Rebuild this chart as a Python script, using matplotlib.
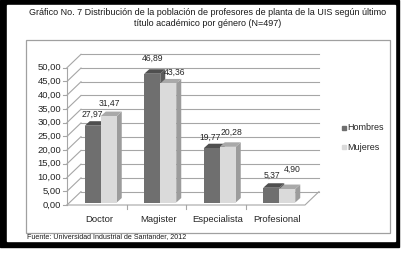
import matplotlib
matplotlib.use("Agg")
import matplotlib.pyplot as plt
from matplotlib.patches import Polygon, Rectangle

# ============================================================
#  Datos
# ============================================================
categories = ["Doctor", "Magister", "Especialista", "Profesional"]
hombres = [27.97, 46.89, 19.77, 5.37]
mujeres = [31.47, 43.36, 20.28, 4.90]
series_names = ["Hombres", "Mujeres"]
y_ticks = [0, 5, 10, 15, 20, 25, 30, 35, 40, 45, 50]

title_lines = [
    "Gráfico No. 7 Distribución de la población de profesores de planta de la UIS según último",
    "título académico por género (N=497)",
]
source = "Fuente: Universidad Industrial de Santander, 2012"

# ============================================================
#  Estilo
# ============================================================
W, H = 401, 254
FONT = ["Liberation Sans", "DejaVu Sans"]
GRID = "#a6a6a6"
TXT = "#262626"

# colores: frente, arriba, lado
COLORS = [
    ("#6f6f6f", "#4f4f4f", "#5c5c5c"),
    ("#dadada", "#a9a9a9", "#9c9c9c"),
]

# desplazamiento de etiquetas (px) respecto al borde superior del frente
LABEL_DX = [[0, 0.5, -1.5, 1], [1, 6, 3.5, 5]]
LABEL_DY = [[11, 15, 11, 12], [13, 11, 14, 20]]


def fx(x):
    return x / W


def fy(y):
    return 1 - y / H


fig = plt.figure(figsize=(W / 100, H / 100), dpi=100)

# marco negro y recuadro del grafico
fig.patches.append(Rectangle((0, fy(247)), fx(399), 247 / H,
                             transform=fig.transFigure, color="black", zorder=-3))
fig.patches.append(Rectangle((fx(7), fy(241)), fx(395) - fx(7), (241 - 5) / H,
                             transform=fig.transFigure, color="white", zorder=-2))
fig.patches.append(Rectangle((fx(26), fy(233)), fx(390) - fx(26), (233 - 40) / H,
                             transform=fig.transFigure, fill=False,
                             edgecolor="#a0a0a0", linewidth=0.9, zorder=-1))

for i, line in enumerate(title_lines):
    fig.text(fx(208), fy(12.5 + 11.5 * i), line, ha="center", va="center",
             fontsize=6.5, family=FONT, color="#1a1a1a")

fig.text(fx(27), fy(237), source, ha="left", va="center",
         fontsize=5.1, family=FONT, color="#1a1a1a")

# ============================================================
#  Area del grafico (plano frontal)
# ============================================================
ax = fig.add_axes([fx(67), fy(205), 238 / W, (205 - 67.7) / H])
ax.set_zorder(2)
ax.patch.set_visible(False)
ax.set_xlim(-0.5, 3.5)
ax.set_ylim(0, 50)
ax.axis("off")

PX_X = 4 / 238
PX_Y = 50 / 137.3

WDX, WDY = 14 * PX_X, 13.4 * PX_Y     # profundidad de paredes
BW = 16 * PX_X                        # ancho de barra
BSX, BSY = 4 * PX_X, 2.5 * PX_Y       # posicion de barra en profundidad
BDX, BDY = 5 * PX_X, 4.5 * PX_Y       # profundidad de barra

x0, x1 = -0.5, 3.5
lkw = dict(color=GRID, linewidth=0.8, clip_on=False, zorder=1)

# paredes y rejilla
for v in y_ticks:
    ax.plot([x0, x0 + WDX], [v, v + WDY], **lkw)
    ax.plot([x0 + WDX, x1 + WDX], [v + WDY, v + WDY], **lkw)
    ax.plot([x0 - 4 * PX_X, x0], [v, v], **lkw)
    ax.text(x0 - 6 * PX_X, v, f"{v:.2f}".replace(".", ","), ha="right",
            va="center", fontsize=6.8, family=FONT, color=TXT)

ax.plot([x0, x0], [0, 50], **lkw)
ax.plot([x0, x1, x1 + WDX], [0, 0, WDY], **lkw)
for b in [0.5, 1.5, 2.5]:
    ax.plot([b, b], [0, -3.5 * PX_Y], **lkw)

for i, cat in enumerate(categories):
    ax.text(i + 2 * PX_X, -14 * PX_Y, cat, ha="center", va="center",
            fontsize=6.8, family=FONT, color=TXT)

# ============================================================
#  Barras 3D
# ============================================================
for s, vals in enumerate([hombres, mujeres]):
    front, top, side = COLORS[s]
    xs = [i - BW + BSX + s * BW for i in range(len(categories))]
    z = 2 + s
    ax.bar(xs, vals, width=BW, bottom=BSY, align="edge", color=front,
           linewidth=0, zorder=z + 0.5, clip_on=False)
    for i, (xl, v) in enumerate(zip(xs, vals)):
        yb, yt = BSY, BSY + v
        xr = xl + BW
        ax.add_patch(Polygon([(xr, yb), (xr + BDX, yb + BDY), (xr + BDX, yt + BDY), (xr, yt)],
                             closed=True, color=side, linewidth=0, zorder=z, clip_on=False))
        ax.add_patch(Polygon([(xl, yt), (xr, yt), (xr + BDX, yt + BDY), (xl + BDX, yt + BDY)],
                             closed=True, color=top, linewidth=0, zorder=z, clip_on=False))
        ax.annotate(f"{v:.2f}".replace(".", ","), xy=(xl + BW / 2, yt),
                    xytext=(LABEL_DX[s][i], LABEL_DY[s][i]), textcoords="offset pixels",
                    ha="center", va="center", fontsize=6.2, family=FONT,
                    color=TXT, zorder=5, annotation_clip=False)

# ============================================================
#  Leyenda
# ============================================================
for s, name in enumerate(series_names):
    yc = 127.7 + 19.6 * s
    fig.patches.append(Rectangle((fx(341.5), fy(yc + 2)), 4 / W, 4 / H,
                                 transform=fig.transFigure, color=COLORS[s][0], zorder=3))
    fig.text(fx(347), fy(yc), name, ha="left", va="center",
             fontsize=6.5, family=FONT, color=TXT)

plt.savefig("out.png", dpi=100)
